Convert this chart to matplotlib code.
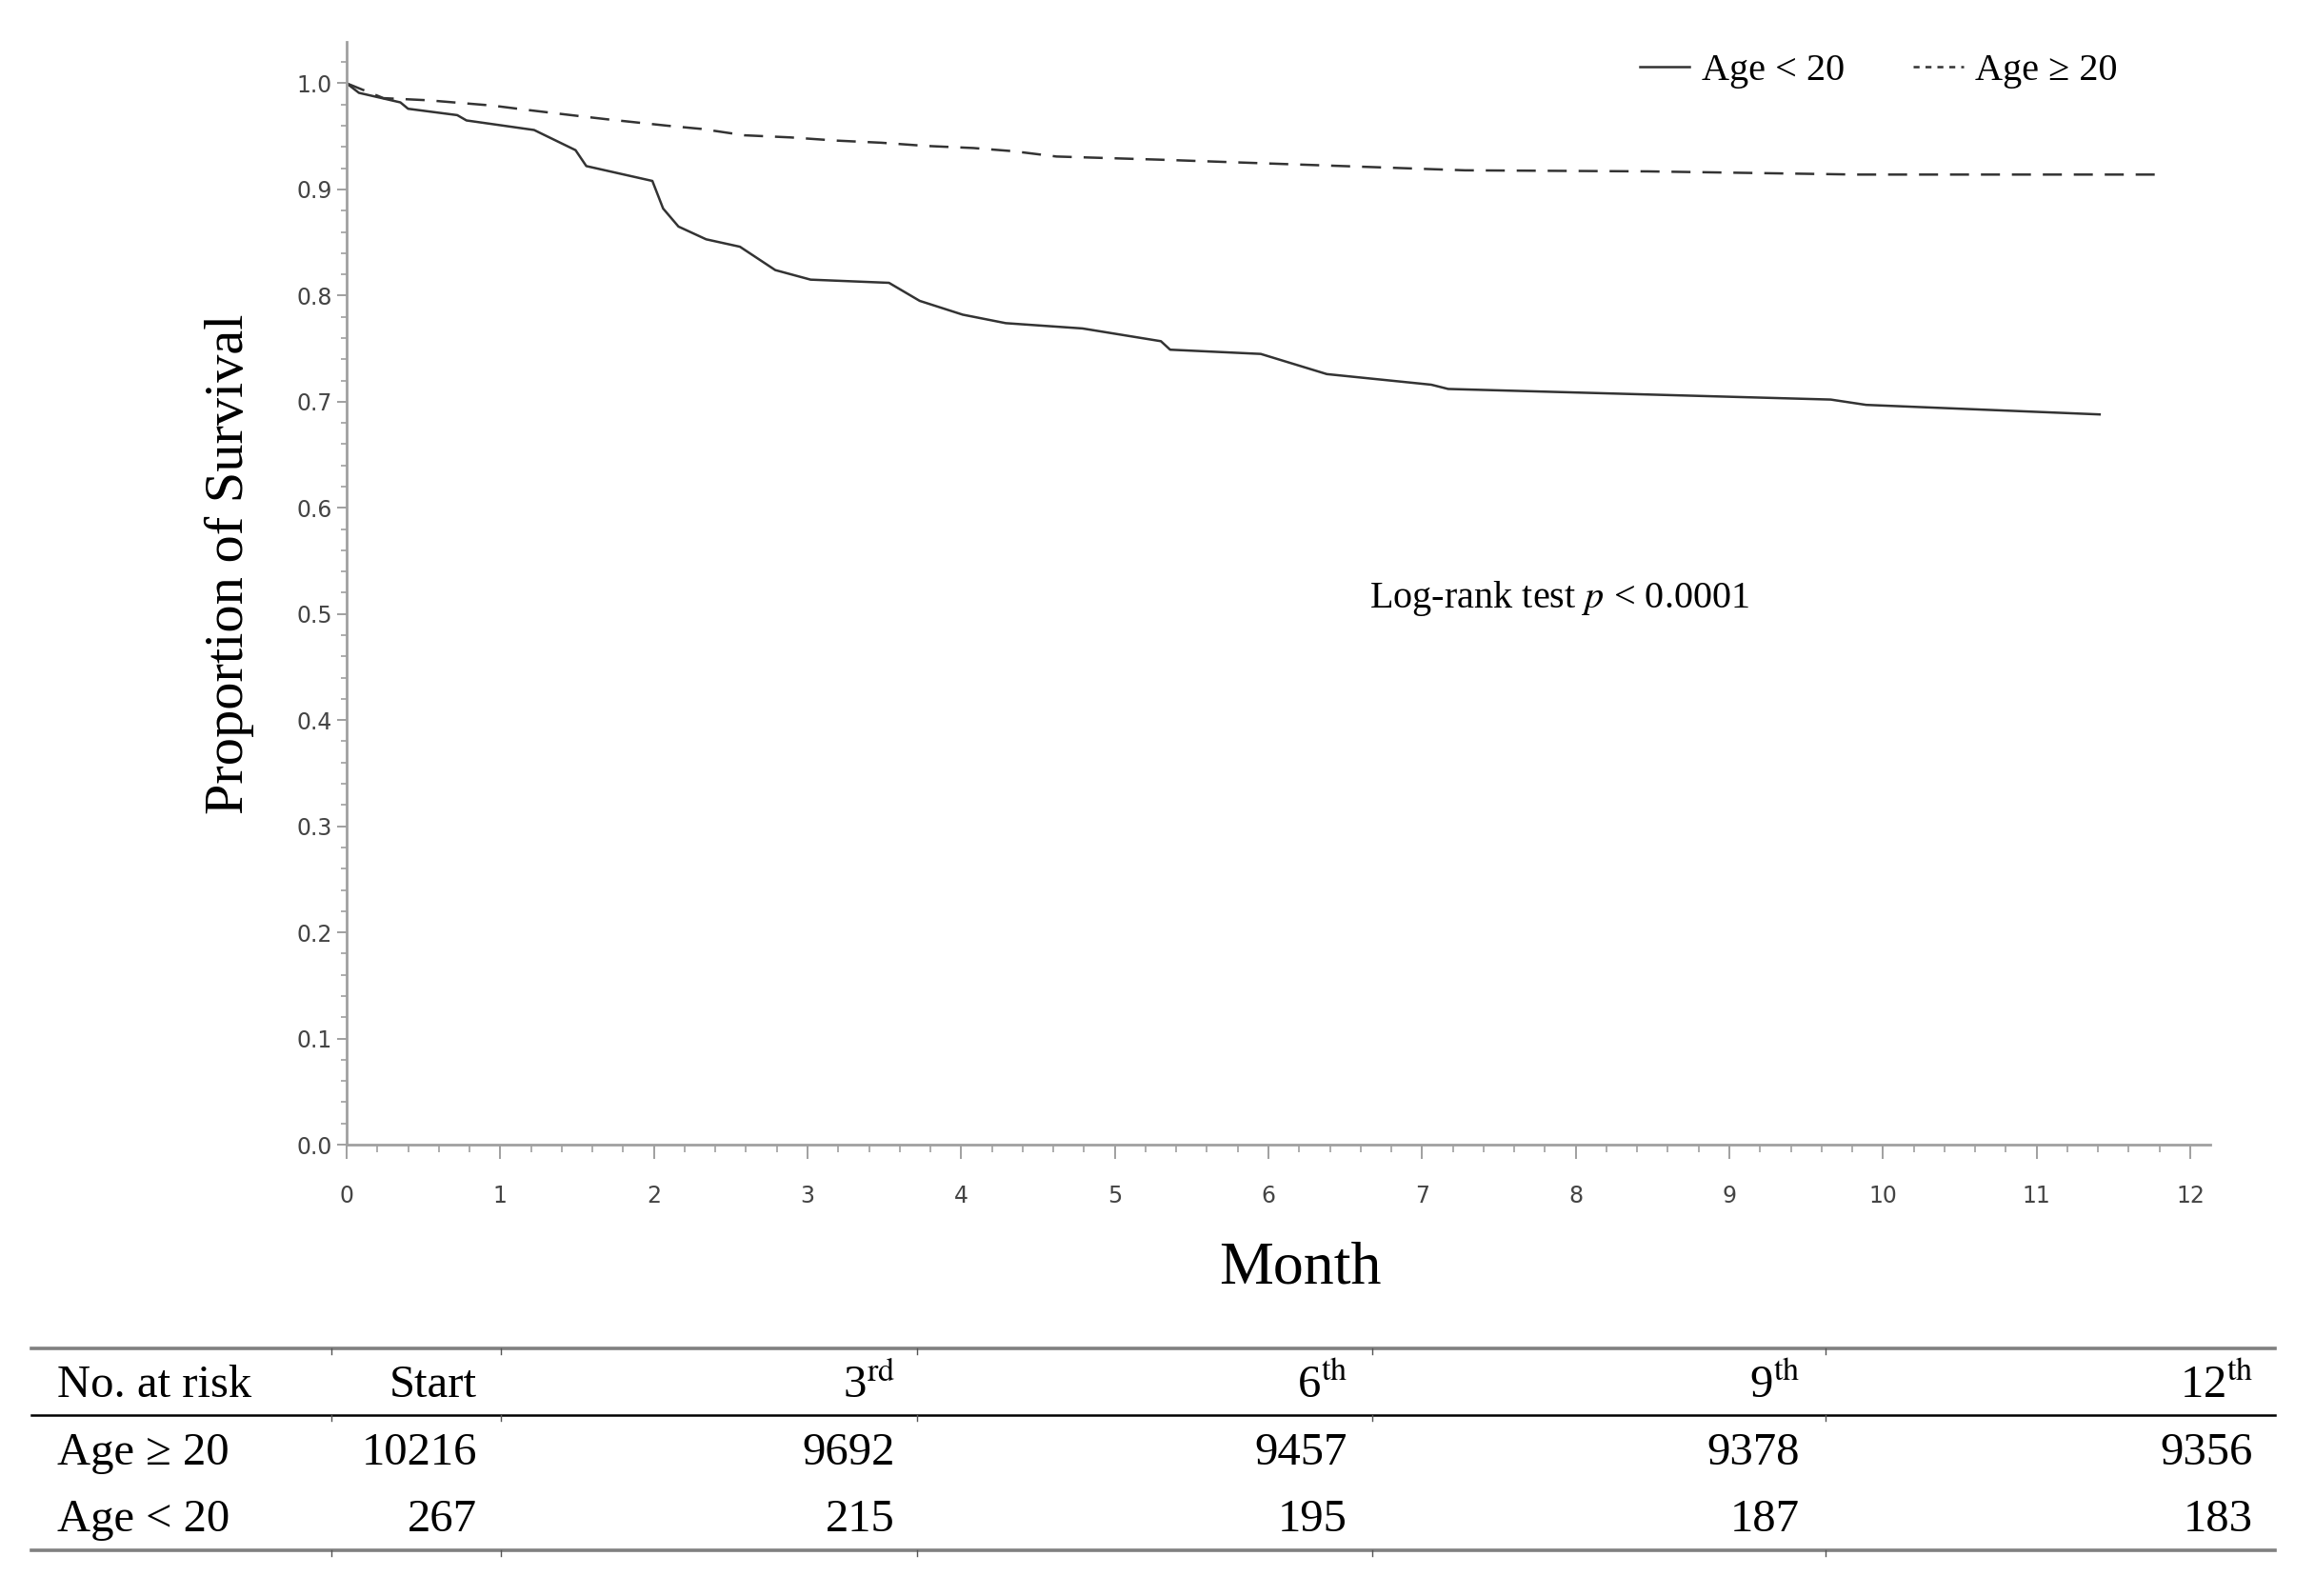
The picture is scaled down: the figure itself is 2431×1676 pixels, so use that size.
import numpy as np
import matplotlib
matplotlib.use('Agg')
import matplotlib.pyplot as plt
from matplotlib.lines import Line2D
from matplotlib.ticker import MultipleLocator, FormatStrFormatter

plt.rcParams['mathtext.fontset'] = 'stix'
SERIF = ['Liberation Serif', 'DejaVu Serif']

# Kaplan-Meier curves
months_young = [0, 0.08, 0.35, 0.40, 0.72, 0.78, 1.22, 1.49, 1.56, 1.99, 2.06, 2.16, 2.34,
                2.56, 2.79, 3.02, 3.53, 3.73, 4.01, 4.29, 4.79, 5.30, 5.36, 5.95, 6.38,
                7.06, 7.17, 9.66, 9.89, 11.41]
surv_young = [1.0, 0.991, 0.982, 0.976, 0.970, 0.965, 0.956, 0.937, 0.922, 0.908, 0.882,
              0.865, 0.853, 0.846, 0.824, 0.815, 0.812, 0.795, 0.782, 0.774, 0.769, 0.757,
              0.749, 0.745, 0.726, 0.716, 0.712, 0.702, 0.697, 0.688]

months_old = [0, 0.24, 0.53, 0.95, 1.17, 1.52, 1.70, 2.09, 2.31, 2.59, 2.89, 3.19, 3.48,
              3.77, 4.08, 4.34, 4.62, 5.30, 6.09, 7.28, 8.47, 9.83, 11.83]
surv_old = [1.0, 0.986, 0.984, 0.979, 0.975, 0.969, 0.966, 0.960, 0.957, 0.951, 0.949,
            0.946, 0.944, 0.941, 0.939, 0.936, 0.931, 0.928, 0.924, 0.918, 0.917, 0.914,
            0.914]

# number at risk table
risk_header = ['Start', '3$^{\\rm rd}$', '6$^{\\rm th}$', '9$^{\\rm th}$', '12$^{\\rm th}$']
risk_rows = ['Age \u2265 20', 'Age < 20']
risk_old = [10216, 9692, 9457, 9378, 9356]
risk_young = [267, 215, 195, 187, 183]

W, H = 2431, 1676
fig = plt.figure(figsize=(W / 100, H / 100), dpi=100)

# main plot
ax = fig.add_axes([364 / W, 1 - 1202 / H, (2321 - 364) / W, (1202 - 44) / H])
ax.plot(months_young, surv_young, color='#333333', lw=1.8, solid_joinstyle='round')
ax.plot(months_old, surv_old, color='#333333', lw=1.8, dashes=(8, 5))
ax.set_xlim(0, 12.13)
ax.set_ylim(0, 1.039)
ax.spines['top'].set_visible(False)
ax.spines['right'].set_visible(False)
for s in ['left', 'bottom']:
    ax.spines[s].set_color('#a0a0a0')
    ax.spines[s].set_linewidth(2)
ax.xaxis.set_major_locator(MultipleLocator(1))
ax.xaxis.set_minor_locator(MultipleLocator(0.2))
ax.yaxis.set_major_locator(MultipleLocator(0.1))
ax.yaxis.set_minor_locator(MultipleLocator(0.02))
ax.yaxis.set_major_formatter(FormatStrFormatter('%.1f'))
ax.tick_params(axis='x', which='major', length=11, width=1.4, color='#a0a0a0',
               labelsize=17, labelcolor='#444444', pad=19)
ax.tick_params(axis='x', which='minor', length=6, width=1.2, color='#a0a0a0')
ax.tick_params(axis='y', which='major', length=7, width=1.4, color='#a0a0a0',
               labelsize=17, labelcolor='#444444', pad=4)
ax.tick_params(axis='y', which='minor', length=4, width=1.2, color='#a0a0a0')

fig.text(241 / W, 1 - 592 / H, 'Proportion of Survival', rotation=90, ha='center',
         va='center', fontsize=42, family=SERIF)
fig.text(1365 / W, 1 - 1332 / H, 'Month', ha='center', va='center', fontsize=46,
         family=SERIF)

ax.text(6.66, 0.515, 'Log-rank test $p$ < 0.0001', ha='left', va='center',
        fontsize=29, family=SERIF)

handles = [Line2D([], [], color='#333333', lw=1.8),
           Line2D([], [], color='#333333', lw=1.8, dashes=(2.5, 2.5))]
ax.legend(handles, ['Age < 20', 'Age \u2265 20'], loc='upper right',
          bbox_to_anchor=(0.95, 0.99), ncol=2, frameon=False,
          prop={'family': SERIF, 'size': 29}, handlelength=1.3, handletextpad=0.3,
          columnspacing=1.8, borderpad=0, borderaxespad=0)

# number-at-risk table underneath, in pixel coordinates
tab = fig.add_axes([0, 0, 1, 1])
tab.set_xlim(0, W)
tab.set_ylim(H, 0)
tab.axis('off')
x0, x1 = 33, 2389
tab.plot([x0, x1], [1416, 1416], color='#808080', lw=2.6)
tab.plot([x0, x1], [1486, 1486], color='black', lw=1.8)
tab.plot([x0, x1], [1628, 1628], color='#808080', lw=2.6)
for cx in [348, 526, 963, 1441, 1917]:
    for ly in [1416, 1486, 1628]:
        tab.plot([cx, cx], [ly, ly + 6], color='#555555', lw=1)

col_right = [501, 940, 1415, 1890, 2366]
tfs = 35
tab.text(60, 1455, 'No. at risk', ha='left', va='center', fontsize=tfs, family=SERIF)
tab.text(60, 1526, risk_rows[0], ha='left', va='center', fontsize=tfs, family=SERIF)
tab.text(60, 1596, risk_rows[1], ha='left', va='center', fontsize=tfs, family=SERIF)
for i, cx in enumerate(col_right):
    tab.text(cx, 1455, risk_header[i], ha='right', va='center', fontsize=tfs, family=SERIF)
    tab.text(cx, 1526, str(risk_old[i]), ha='right', va='center', fontsize=tfs, family=SERIF)
    tab.text(cx, 1596, str(risk_young[i]), ha='right', va='center', fontsize=tfs, family=SERIF)

fig.savefig('out.png', dpi=100)
